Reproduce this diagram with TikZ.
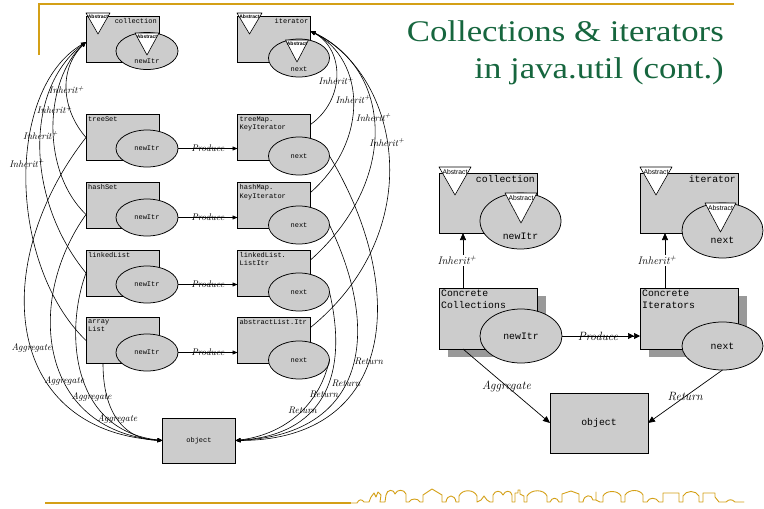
\documentclass[tikz,border=0pt]{standalone}
\usepackage{fontspec}
\usetikzlibrary{shapes.geometric,arrows.meta}
\newfontfamily\monofam{Liberation Mono}
\newfontfamily\sansfam{Liberation Sans}
\newfontfamily\titlefam[FakeStretch=1.16]{Liberation Serif}
\definecolor{gold}{RGB}{212,160,23}
\definecolor{boxgray}{RGB}{204,204,204}
\definecolor{shadowgray}{RGB}{153,153,153}
\definecolor{titlegreen}{RGB}{22,102,62}
\newcommand{\smallmono}{\monofam\fontsize{7}{8.5}\selectfont}
\newcommand{\bigmono}{\monofam\fontsize{9.8}{12}\selectfont}
\newcommand{\smallit}{\itshape\fontsize{9.6}{10}\selectfont}
\newcommand{\bigit}{\itshape\fontsize{12}{13}\selectfont}
\newcommand{\ltri}{\sansfam\bfseries\fontsize{5}{5}\selectfont}
\newcommand{\rtri}{\sansfam\fontsize{6.8}{7}\selectfont}
% inverted "Abstract" marker: name, left x, top y, width, height, font
\newcommand{\abstag}[6]{%
  \filldraw[fill=white, draw=black, line width=0.6pt, line join=round]
    (#2,#3) -- ++(#4,0) -- ++(-#4/2,#5) -- cycle;
  \node[inner sep=0pt, font=#6] (#1) at (#2+#4/2,#3+#5*0.17) {Abstract};}
\begin{document}
\begin{tikzpicture}[x=1pt,y=-1pt,
  lbox/.style={draw=black, fill=boxgray, line width=0.75pt, minimum width=73pt,
    minimum height=46pt, inner sep=0pt, outer sep=0pt},
  lell/.style={ellipse, draw=black, fill=boxgray, line width=0.75pt, minimum width=62pt,
    minimum height=37pt, inner sep=0pt, outer sep=0pt, font=\smallmono},
  nextsize/.style={minimum width=61pt, minimum height=38pt},
  txtnw/.style={anchor=north west, inner sep=2pt, font=\smallmono, align=left},
  txtne/.style={anchor=north east, inner sep=2pt, font=\smallmono, align=right},
  larr/.style={line width=0.6pt, -{Triangle[length=5pt,width=4pt]}},
  lbl/.style={font=\smallit, inner sep=0.5pt},
  rbox/.style={draw=black, fill=boxgray, line width=0.75pt, minimum width=98pt,
    minimum height=60pt, inner sep=0pt, outer sep=0pt},
  rell/.style={ellipse, draw=black, fill=boxgray, line width=0.75pt, inner sep=0pt,
    outer sep=0pt, font=\bigmono},
  rshadow/.style={fill=shadowgray, minimum width=98pt, minimum height=61pt, inner sep=0pt},
  rarr/.style={line width=0.7pt, -{Triangle[length=7pt,width=6pt]}},
  rlbl/.style={font=\bigit, inner sep=1pt},
  goldline/.style={draw=gold, line width=1.8pt},
  skyline/.style={draw=gold, line width=0.9pt, line join=round, line cap=round}]

\useasboundingbox (0,0) rectangle (764,509);
\fill[white] (0,0) rectangle (764,509);

% frame and title
\draw[goldline] (39,55) -- (39,4) -- (734,4);
\node[anchor=base east, inner sep=0pt, text=titlegreen,
  font=\titlefam\fontsize{30}{30}\selectfont] (title1) at (724,41) {Collections \& iterators};
\node[anchor=base east, inner sep=0pt, text=titlegreen,
  font=\titlefam\fontsize{30}{30}\selectfont] (title2) at (724,78) {in java.util (cont.)};

% ---------- class map of java.util ----------
\node[lbox, label={[txtne]north east:collection}] (lcoll) at (122.5,39) {};
\node[lbox, label={[txtne]north east:iterator}] (liter) at (274,39) {};
\node[lbox, label={[txtnw]north west:treeSet}] (lts) at (122.5,137.5) {};
\node[lbox, label={[txtnw]north west:{treeMap.\\KeyIterator}}] (ltm) at (274,137.5) {};
\node[lbox, label={[txtnw]north west:hashSet}] (lhs) at (122.5,205.5) {};
\node[lbox, label={[txtnw]north west:{hashMap.\\KeyIterator}}] (lhm) at (274,205.5) {};
\node[lbox, label={[txtnw]north west:linkedList}] (lll) at (122.5,273) {};
\node[lbox, label={[txtnw]north west:{linkedList.\\ListItr}}] (lli) at (274,273) {};
\node[lbox, label={[txtnw]north west:{array\\List}}] (lal) at (122.5,340.5) {};
\node[lbox, label={[txtnw]north west:abstractList.Itr}] (lai) at (274,340.5) {};
\node[lbox, minimum height=45pt, font=\smallmono] (lobj) at (199,440.5) {object};

\node[lell] (lcollE) at (147,51) {};
\node[font=\smallmono, inner sep=0pt] (lcollT) at (147,61) {newItr};
\node[lell, nextsize] (literE) at (299,58) {};
\node[font=\smallmono, inner sep=0pt] (literT) at (299,69) {next};
\node[lell] (ltsE) at (147,148.5) {newItr};
\node[lell, nextsize] (ltmE) at (299,156) {next};
\node[lell] (lhsE) at (147,217.5) {newItr};
\node[lell, nextsize] (lhmE) at (299,225) {next};
\node[lell] (lllE) at (147,284.5) {newItr};
\node[lell, nextsize] (lliE) at (299,292) {next};
\node[lell] (lalE) at (147,352.5) {newItr};
\node[lell, nextsize] (laiE) at (299,360) {next};

\abstag{lcollA}{86}{13}{24}{21}{\ltri}
\abstag{lcollEA}{135}{33}{24}{22}{\ltri}
\abstag{literA}{237}{13}{25}{21}{\ltri}
\abstag{literEA}{285.5}{40}{23}{22}{\ltri}

% produce
\foreach \c/\i in {ltsE/ltm, lhsE/lhm, lllE/lli, lalE/lai}
  \draw[larr] (\c.east) -- (\c.east -| \i.west) node[lbl, midway] {Produce};

% inherit (collections)
\draw[larr] (lts.west) .. controls (62,110) and (58,70) .. ([yshift=-3pt]lcoll.west)
  node[lbl, pos=.5] {Inherit\textsuperscript{+}};
\draw[larr] ([yshift=-9pt]lhs.west) .. controls (40,170) and (45,80) .. ([yshift=-3pt]lcoll.west)
  node[lbl, pos=.58] {Inherit\textsuperscript{+}};
\draw[larr] (lll.west) .. controls (26,200) and (24,90) .. ([yshift=-3pt]lcoll.west)
  node[lbl, pos=.55] {Inherit\textsuperscript{+}};
\draw[larr] (lal.west) .. controls (8,265) and (5,90) .. ([yshift=-3pt]lcoll.west)
  node[lbl, pos=.55] {Inherit\textsuperscript{+}};

% inherit (iterators)
\draw[larr] ([yshift=-10pt]ltm.north east) .. controls (345,100) and (345,50) .. ([yshift=8pt]liter.east)
  node[lbl, pos=.45] {Inherit\textsuperscript{+}};
\draw[larr] ([yshift=-10pt]lhm.north east) .. controls (370,140) and (365,60) .. ([yshift=8pt]liter.east)
  node[lbl, pos=.52] {Inherit\textsuperscript{+}};
\draw[larr] ([yshift=-10pt]lli.north east) .. controls (400,180) and (392,70) .. ([yshift=8pt]liter.east)
  node[lbl, pos=.55] {Inherit\textsuperscript{+}};
\draw[larr] ([yshift=-10pt]lai.north east) .. controls (430,230) and (400,75) .. ([yshift=8pt]liter.east)
  node[lbl, pos=.55] {Inherit\textsuperscript{+}};

% aggregate
\draw[larr] (lts.west) .. controls (-10,260) and (0,430) .. (lobj.west)
  node[lbl, pos=.55] {Aggregate};
\draw[larr] ([yshift=-9pt]lhs.west) .. controls (25,300) and (38,430) .. (lobj.west)
  node[lbl, pos=.6] {Aggregate};
\draw[larr] (lll.west) .. controls (65,330) and (70,430) .. (lobj.west)
  node[lbl, pos=.62] {Aggregate};
\draw[larr] ([xshift=17pt]lal.south west) .. controls (103,420) and (130,440) .. (lobj.west)
  node[lbl, pos=.45] {Aggregate};

% return
\draw[larr] (ltmE.east) .. controls (410,290) and (395,440) .. (lobj.east)
  node[lbl, pos=.54] {Return};
\draw[larr] (lhmE.east) .. controls (385,340) and (360,435) .. (lobj.east)
  node[lbl, pos=.54] {Return};
\draw[larr] (lliE.east) .. controls (350,380) and (320,435) .. (lobj.east)
  node[lbl, pos=.48] {Return};
\draw[larr] (laiE.east) .. controls (318,410) and (280,435) .. (lobj.east)
  node[lbl, pos=.42] {Return};

% ---------- general pattern ----------
\node[rshadow] (rcsh) at (497,326.5) {};
\node[rshadow] (rish) at (698,326.5) {};
\node[rbox, label={[txtne, font=\bigmono]north east:collection}] (rcoll) at (488,203) {};
\node[rbox, label={[txtne, font=\bigmono]north east:iterator}] (riter) at (689,203) {};
\node[rbox, minimum height=61pt, label={[txtnw, font=\bigmono]north west:{Concrete\\Collections}}] (rconc) at (488,318.5) {};
\node[rbox, minimum height=61pt, label={[txtnw, font=\bigmono]north west:{Concrete\\Iterators}}] (rconi) at (689,318.5) {};
\node[rbox, font=\bigmono] (robj) at (599,423) {object};

\node[rell, minimum width=81pt, minimum height=56pt] (rcollE) at (520.5,221) {};
\node[font=\bigmono, inner sep=0pt] (rcollT) at (520.5,236) {newItr};
\node[rell, minimum width=81pt, minimum height=55pt] (riterE) at (722.5,230.5) {};
\node[font=\bigmono, inner sep=0pt] (riterT) at (722.5,240) {next};
\node[rell, minimum width=82pt, minimum height=54pt] (rconcE) at (521,336) {newItr};
\node[rell, minimum width=81pt, minimum height=48pt] (rconiE) at (722.5,346) {next};

\abstag{rcollA}{439}{167}{32}{28}{\rtri}
\abstag{rcollEA}{505}{193}{32}{30}{\rtri}
\abstag{riterA}{640}{167}{32}{28}{\rtri}
\abstag{riterEA}{705}{203}{31}{29}{\rtri}

\draw[rarr] ([xshift=24pt]rconc.north west) -- ([xshift=24pt]rcoll.south west)
  node[rlbl, pos=.5, xshift=-6pt, fill=white, font=\itshape\fontsize{11}{12}\selectfont] {Inherit\textsuperscript{+}};
\draw[rarr] ([xshift=25pt]rconi.north west) -- ([xshift=25pt]riter.south west)
  node[rlbl, pos=.5, xshift=-8pt, fill=white, font=\itshape\fontsize{11}{12}\selectfont] {Inherit\textsuperscript{+}};
\draw[line width=0.7pt, -{Triangle[length=6pt,width=6pt] Triangle[length=6pt,width=6pt]}]
  (rconcE.east) -- (rconcE.east -| rconi.west) node[rlbl, midway, xshift=-3pt] {Produce};
\draw[rarr] ([xshift=24pt]rconc.south west) -- (robj.west) node[rlbl, midway] {Aggregate};
\draw[rarr] (rconiE.south) -- (robj.east) node[rlbl, midway] {Return};

% footer rule and skyline
\draw[goldline] (45,503) -- (351,503);
\draw[skyline] (351,503) -- (357,503)
 .. controls (359,499) and (362,499) .. (364,502) -- (369,502)
 -- (371,497) -- (374,493) -- (376,497) -- (378,492) -- (381,495) -- (380,502)
 -- (385,502) -- (386,495) .. controls (387,489) and (394,489) .. (395,494)
 .. controls (397,489) and (404,489) .. (406,494) -- (406,502)
 -- (409,502) .. controls (411,498) and (418,498) .. (420,502)
 -- (423,502) -- (423,495) -- (432,489) -- (442,495) -- (442,502)
 -- (446,502) .. controls (447,494) and (455,494) .. (456,502)
 -- (459,502) -- (459,496) .. controls (462,489) and (474,489) .. (477,496) -- (477,502)
 -- (481,500) -- (484,496) -- (487,500) -- (490,502)
 -- (493,502) -- (493,495) .. controls (495,490) and (501,490) .. (503,495)
 .. controls (505,490) and (511,490) .. (512,495) -- (512,502)
 -- (515,502) -- (515,493) -- (518,493) -- (518,490) -- (520,490) -- (520,494) -- (524,496) -- (524,502)
 -- (527,502) -- (527,496) .. controls (531,489) and (544,489) .. (547,496) -- (547,502)
 -- (550,502) .. controls (552,497) and (557,497) .. (559,502)
 -- (562,502) -- (562,494) -- (571,491) -- (579,494) -- (579,502)
 -- (583,502) .. controls (584,494) and (592,494) .. (593,500) -- (596,500) -- (596,492)
 -- (596,500) -- (600,502)
 -- (603,502) -- (603,496) .. controls (606,490) and (618,490) .. (621,496) -- (621,502)
 -- (625,502) -- (625,495) .. controls (629,489) and (640,489) .. (643,495) -- (643,502)
 -- (647,502) .. controls (649,497) and (656,497) .. (659,502)
 -- (663,502) -- (663,493) -- (679,493) -- (679,502)
 -- (683,502) -- (683,496) .. controls (686,490) and (696,490) .. (699,496) -- (699,502)
 -- (703,502) -- (703,493) -- (715,493) -- (715,497)
 -- (719,502) -- (726,502) .. controls (729,499) and (732,499) .. (735,502) -- (744,502);
\end{tikzpicture}
\end{document}
